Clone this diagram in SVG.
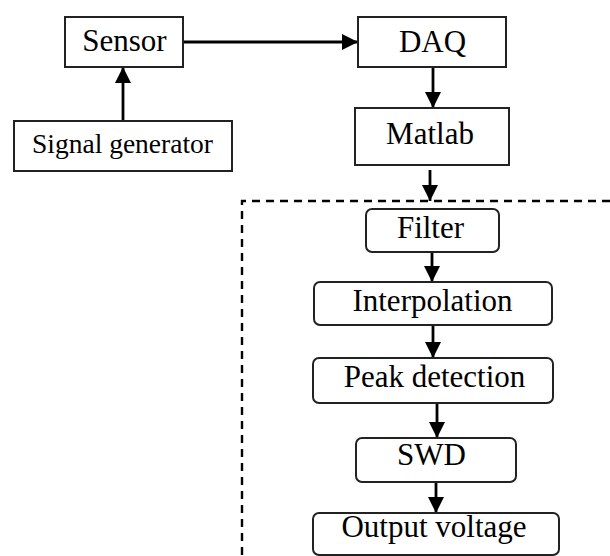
<svg xmlns="http://www.w3.org/2000/svg" width="610" height="556" viewBox="0 0 610 556">
  <defs>
    <marker id="arrow" viewBox="0 0 16 16" refX="16" refY="8" markerWidth="16" markerHeight="16" markerUnits="userSpaceOnUse" orient="auto">
      <path d="M0,0 L16,8 L0,16 Z" fill="#000"/>
    </marker>
  </defs>
  <style>
    .box { fill: #fff; stroke: #222; stroke-width: 2; }
    .label { font-family: "Liberation Serif", "Times New Roman", serif; font-size: 31px; fill: #000; text-anchor: middle; }
    .small { font-size: 27.5px; }
    .conn { stroke: #000; stroke-width: 2.8; fill: none; marker-end: url(#arrow); }
    .frame { stroke: #000; stroke-width: 2.4; fill: none; stroke-dasharray: 8 6; }
  </style>

  <rect width="610" height="556" fill="#fff"/>

  <!-- processing region -->
  <path class="frame" d="M610,201 H242 V556"/>

  <g id="connectors">
    <line class="conn" x1="183" y1="42" x2="358" y2="42"/>
    <line class="conn" x1="123" y1="121" x2="123" y2="67"/>
    <line class="conn" x1="433" y1="67" x2="433" y2="108"/>
    <line class="conn" x1="430" y1="170" x2="430" y2="201"/>
    <line class="conn" x1="432" y1="252" x2="432" y2="282"/>
    <line class="conn" x1="433" y1="325" x2="433" y2="358"/>
    <line class="conn" x1="437" y1="403" x2="437" y2="438"/>
    <line class="conn" x1="436" y1="482" x2="436" y2="513"/>
  </g>

  <g id="sensor">
    <rect class="box" x="65" y="17" width="118" height="50"/>
    <text class="label" x="124.5" y="51">Sensor</text>
  </g>
  <g id="signal-generator">
    <rect class="box" x="14" y="121" width="218" height="50"/>
    <text class="label small" x="122.5" y="153">Signal generator</text>
  </g>
  <g id="daq">
    <rect class="box" x="358" y="17" width="148" height="50"/>
    <text class="label" x="432.5" y="52">DAQ</text>
  </g>
  <g id="matlab">
    <rect class="box" x="355" y="108" width="154" height="57"/>
    <text class="label" x="430" y="144">Matlab</text>
  </g>
  <g id="filter">
    <rect class="box" x="366" y="209" width="133" height="43" rx="6"/>
    <text class="label" x="430.5" y="238">Filter</text>
  </g>
  <g id="interpolation">
    <rect class="box" x="314" y="282" width="238" height="43" rx="6"/>
    <text class="label" x="432.5" y="311">Interpolation</text>
  </g>
  <g id="peak-detection">
    <rect class="box" x="313" y="358" width="240" height="45" rx="6"/>
    <text class="label" x="434.5" y="387">Peak detection</text>
  </g>
  <g id="swd">
    <rect class="box" x="356" y="438" width="160" height="44" rx="6"/>
    <text class="label" x="431.5" y="465">SWD</text>
  </g>
  <g id="output-voltage">
    <rect class="box" x="313" y="513" width="246" height="42" rx="6"/>
    <text class="label" x="434" y="537">Output voltage</text>
  </g>
</svg>
